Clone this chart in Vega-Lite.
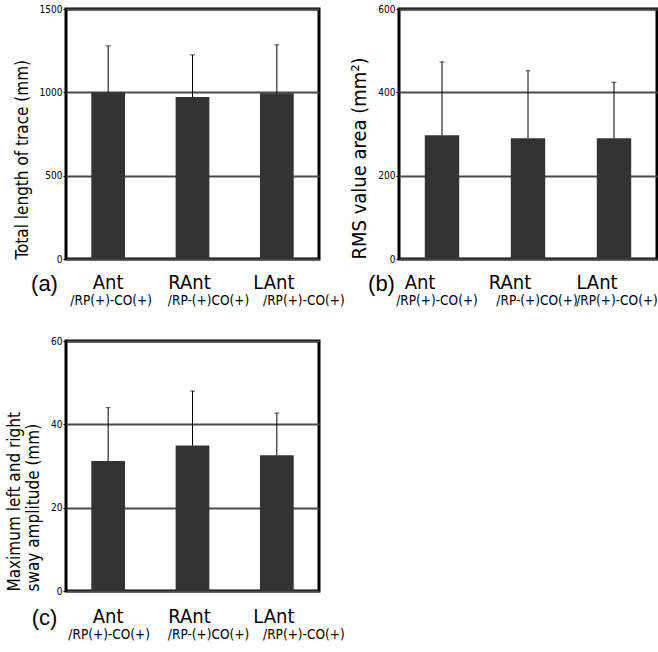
{
  "$schema": "https://vega.github.io/schema/vega-lite/v6.json",
  "padding": {"left": 4, "top": 2, "right": 0, "bottom": 0},
  "background": "white",
  "config": {
    "view": {"stroke": "black", "strokeWidth": 3},
    "font": "DejaVu Sans Condensed",
    "axisY": {"format": "d", "labelFontSize": 10, "labelFont": "DejaVu Sans Condensed", "labelColor": "black", "labelPadding": 1, "tickSize": 3, "tickColor": "black", "domain": false, "grid": true, "gridColor": "#4a4a4a", "gridWidth": 2, "titleFontSize": 17, "titleFontWeight": "normal", "titleFont": "DejaVu Sans Condensed", "titleColor": "black", "titleAnchor": "start", "titlePadding": 8},
    "axisX": {"orient": "bottom", "labelAngle": 0, "ticks": false, "domain": false, "grid": false, "labelColor": "black", "labelFont": "DejaVu Sans Condensed"}
  },
  "datasets": {
    "a": [
      {"group": "Ant", "sub": "/RP(+)-CO(+)", "mean": 1000, "upper": 1279},
      {"group": "RAnt", "sub": "/RP-(+)CO(+)", "mean": 972, "upper": 1225},
      {"group": "LAnt", "sub": "/RP(+)-CO(+)", "mean": 995, "upper": 1285}
    ],
    "b": [
      {"group": "Ant", "sub": "/RP(+)-CO(+)", "mean": 297, "upper": 473},
      {"group": "RAnt", "sub": "/RP-(+)CO(+)", "mean": 290, "upper": 452},
      {"group": "LAnt", "sub": "/RP(+)-CO(+)", "mean": 290, "upper": 424}
    ],
    "c": [
      {"group": "Ant", "sub": "/RP(+)-CO(+)", "mean": 31.2, "upper": 44.0},
      {"group": "RAnt", "sub": "/RP-(+)CO(+)", "mean": 34.9, "upper": 48.0},
      {"group": "LAnt", "sub": "/RP(+)-CO(+)", "mean": 32.6, "upper": 42.7}
    ]
  },
  "bounds": "flush",
  "columns": 2,
  "spacing": {"row": 82, "column": 80},
  "concat": [
    {
      "width": 253, "height": 250,
      "data": {"name": "a"},
      "resolve": {"axis": {"x": "independent"}},
      "layer": [
        {"mark": {"type": "bar", "color": "#333333"},
         "encoding": {
           "x": {"field": "group", "type": "nominal", "sort": null, "scale": {"paddingInner": 0.6, "paddingOuter": 0.3},
                 "axis": {"orient": "bottom", "title": null, "labelFontSize": 13.5, "labelPadding": 34, "labelExpr": "datum.value == 'RAnt' ? '/RP-(+)CO(+)' : '/RP(+)-CO(+)'",
                          "labelOffset": {"condition": [{"test": "datum.value == 'Ant'", "value": 3}, {"test": "datum.value == 'RAnt'", "value": 16}], "value": 27}}},
           "y": {"field": "mean", "type": "quantitative", "scale": {"domain": [0, 1500], "nice": false}, "axis": {"values": [0, 500, 1000, 1500], "title": "Total length of trace (mm)"}}
         }},
        {"mark": {"type": "rule", "color": "black", "strokeWidth": 1},
         "encoding": {
           "x": {"field": "group", "type": "nominal", "sort": null,
                 "axis": {"orient": "bottom", "title": "(a)", "labelFontSize": 20, "labelPadding": 13, "titleX": -22, "titleY": 24, "titleAlign": "center", "titleBaseline": "middle", "titleFontSize": 22, "titleFontWeight": "normal", "titleFont": "Liberation Sans", "titleColor": "black",
                          "labelOffset": {"condition": {"test": "datum.value == 'Ant'", "value": 0}, "value": -3}}},
           "y": {"field": "mean", "type": "quantitative", "scale": {"domain": [0, 1500], "nice": false}, "axis": {"values": [0, 500, 1000, 1500], "title": "Total length of trace (mm)"}},
           "y2": {"field": "upper"}
         }},
        {"mark": {"type": "tick", "color": "black", "size": 5, "thickness": 1},
         "encoding": {
           "x": {"field": "group", "type": "nominal", "sort": null, "axis": null},
           "y": {"field": "upper", "type": "quantitative", "scale": {"domain": [0, 1500], "nice": false}, "axis": {"values": [0, 500, 1000, 1500], "title": "Total length of trace (mm)"}}
         }}
      ]
    },
    {
      "width": 258, "height": 250,
      "data": {"name": "b"},
      "resolve": {"axis": {"x": "independent"}},
      "layer": [
        {"mark": {"type": "bar", "color": "#333333"},
         "encoding": {
           "x": {"field": "group", "type": "nominal", "sort": null, "scale": {"paddingInner": 0.6, "paddingOuter": 0.3},
                 "axis": {"orient": "bottom", "title": null, "labelFontSize": 13.5, "labelPadding": 34, "labelExpr": "datum.value == 'RAnt' ? '/RP-(+)CO(+)' : '/RP(+)-CO(+)'",
                          "labelOffset": {"condition": [{"test": "datum.value == 'Ant'", "value": -5}, {"test": "datum.value == 'RAnt'", "value": 9}], "value": 3}}},
           "y": {"field": "mean", "type": "quantitative", "scale": {"domain": [0, 600], "nice": false}, "axis": {"values": [0, 200, 400, 600], "title": "RMS value area (mm²)", "titleFontSize": 20}}
         }},
        {"mark": {"type": "rule", "color": "black", "strokeWidth": 1},
         "encoding": {
           "x": {"field": "group", "type": "nominal", "sort": null,
                 "axis": {"orient": "bottom", "title": "(b)", "labelFontSize": 20, "labelPadding": 13, "titleX": -18, "titleY": 24, "titleAlign": "center", "titleBaseline": "middle", "titleFontSize": 22, "titleFontWeight": "normal", "titleFont": "Liberation Sans", "titleColor": "black",
                          "labelOffset": {"condition": [{"test": "datum.value == 'Ant'", "value": -22}, {"test": "datum.value == 'RAnt'", "value": -18}], "value": -17}}},
           "y": {"field": "mean", "type": "quantitative", "scale": {"domain": [0, 600], "nice": false}, "axis": {"values": [0, 200, 400, 600], "title": "RMS value area (mm²)", "titleFontSize": 20}},
           "y2": {"field": "upper"}
         }},
        {"mark": {"type": "tick", "color": "black", "size": 5, "thickness": 1},
         "encoding": {
           "x": {"field": "group", "type": "nominal", "sort": null, "axis": null},
           "y": {"field": "upper", "type": "quantitative", "scale": {"domain": [0, 600], "nice": false}, "axis": {"values": [0, 200, 400, 600], "title": "RMS value area (mm²)", "titleFontSize": 20}}
         }}
      ]
    },
    {
      "width": 253, "height": 250,
      "data": {"name": "c"},
      "resolve": {"axis": {"x": "independent"}},
      "layer": [
        {"mark": {"type": "bar", "color": "#333333"},
         "encoding": {
           "x": {"field": "group", "type": "nominal", "sort": null, "scale": {"paddingInner": 0.6, "paddingOuter": 0.3},
                 "axis": {"orient": "bottom", "title": null, "labelFontSize": 13.5, "labelPadding": 36, "labelExpr": "datum.value == 'RAnt' ? '/RP-(+)CO(+)' : '/RP(+)-CO(+)'",
                          "labelOffset": {"condition": [{"test": "datum.value == 'Ant'", "value": 1}, {"test": "datum.value == 'RAnt'", "value": 16}], "value": 27}}},
           "y": {"field": "mean", "type": "quantitative", "scale": {"domain": [0, 60], "nice": false}, "axis": {"values": [0, 20, 40, 60], "title": ["Maximum left and right", "sway amplitude (mm)"], "titleFontSize": 17}}
         }},
        {"mark": {"type": "rule", "color": "black", "strokeWidth": 1},
         "encoding": {
           "x": {"field": "group", "type": "nominal", "sort": null,
                 "axis": {"orient": "bottom", "title": "(c)", "labelFontSize": 20, "labelPadding": 15, "titleX": -22, "titleY": 26, "titleAlign": "center", "titleBaseline": "middle", "titleFontSize": 22, "titleFontWeight": "normal", "titleFont": "Liberation Sans", "titleColor": "black",
                          "labelOffset": {"condition": {"test": "datum.value == 'Ant'", "value": 0}, "value": -3}}},
           "y": {"field": "mean", "type": "quantitative", "scale": {"domain": [0, 60], "nice": false}, "axis": {"values": [0, 20, 40, 60], "title": ["Maximum left and right", "sway amplitude (mm)"], "titleFontSize": 17}},
           "y2": {"field": "upper"}
         }},
        {"mark": {"type": "tick", "color": "black", "size": 5, "thickness": 1},
         "encoding": {
           "x": {"field": "group", "type": "nominal", "sort": null, "axis": null},
           "y": {"field": "upper", "type": "quantitative", "scale": {"domain": [0, 60], "nice": false}, "axis": {"values": [0, 20, 40, 60], "title": ["Maximum left and right", "sway amplitude (mm)"], "titleFontSize": 17}}
         }}
      ]
    }
  ]
}
